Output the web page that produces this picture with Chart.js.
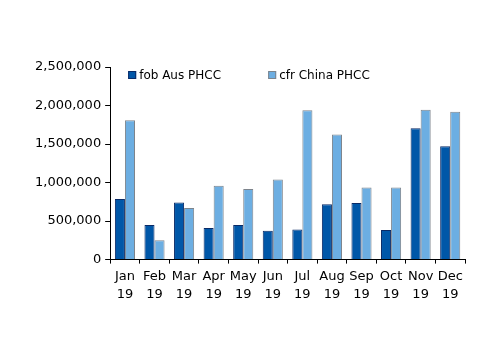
<!DOCTYPE html>
<html>
<head>
<meta charset="utf-8">
<script src="https://cdn.jsdelivr.net/npm/chart.js@4/dist/chart.umd.min.js"></script>
<style>
  html, body { margin: 0; padding: 0; background: #fff; }
  #wrap { width: 500px; height: 354px; }
</style>
</head>
<body>
<div id="wrap"><canvas id="chart"></canvas></div>
<script>
// data
const months = ['Jan', 'Feb', 'Mar', 'Apr', 'May', 'Jun', 'Jul', 'Aug', 'Sep', 'Oct', 'Nov', 'Dec'];
const year = '19';
const fobAus = [785000, 450000, 740000, 410000, 450000, 375000, 390000, 720000, 735000, 385000, 1705000, 1470000];
const cfrChina = [1810000, 250000, 670000, 960000, 915000, 1040000, 1940000, 1625000, 935000, 935000, 1945000, 1920000];
const yTicks = [0, 500000, 1000000, 1500000, 2000000, 2500000];

const FONT = 'DejaVu Sans';

// legend drawn inside the plot area, top left
const insideLegend = {
  id: 'insideLegend',
  afterDraw(chart) {
    const ctx = chart.ctx;
    const area = chart.chartArea;
    const offsets = [18, 158];
    ctx.save();
    ctx.font = '12px "' + FONT + '"';
    ctx.textBaseline = 'middle';
    chart.data.datasets.forEach((ds, i) => {
      const x = area.left + offsets[i];
      const y = area.top + 4;
      ctx.fillStyle = ds.backgroundColor;
      ctx.strokeStyle = ds.borderColor;
      ctx.lineWidth = 1;
      ctx.fillRect(x, y, 8, 8);
      ctx.strokeRect(x + 0.5, y + 0.5, 7, 7);
      ctx.fillStyle = '#000';
      ctx.fillText(ds.label, x + 11, y + 4.5);
    });
    ctx.restore();
  }
};

window.addEventListener('load', fillChart);

function fillChart() {
  let ctx = document.getElementById('chart').getContext('2d');
  new Chart(ctx, {
    type: 'bar',
    data: {
      labels: months.map(m => [m, year]),
      datasets: [{
        label: 'fob Aus PHCC',
        data: fobAus,
        backgroundColor: '#0057a8',
        borderColor: '#0a2a66',
        borderWidth: 1
      }, {
        label: 'cfr China PHCC',
        data: cfrChina,
        backgroundColor: '#6caee2',
        borderColor: '#7d848c',
        borderWidth: 1
      }]
    },
    plugins: [insideLegend],
    options: {
      responsive: true,
      maintainAspectRatio: false,
      animation: false,
      datasets: {
        bar: { categoryPercentage: 0.68, barPercentage: 1.0 }
      },
      layout: { padding: { left: 31, right: 35, top: 67, bottom: 46 } },
      plugins: {
        legend: { display: false },
        tooltip: { enabled: false }
      },
      scales: {
        x: {
          offset: true,
          grid: { offset: true, drawOnChartArea: false, drawTicks: true, tickLength: 4, color: '#000' },
          border: { color: '#000', width: 1 },
          ticks: { color: '#000', font: { family: FONT, size: 13, lineHeight: 1.4 }, padding: 4, maxRotation: 0, autoSkip: false }
        },
        y: {
          min: 0,
          max: 2500000,
          afterBuildTicks(axis) { axis.ticks = yTicks.map(v => ({ value: v })); },
          grid: { drawOnChartArea: false, drawTicks: true, tickLength: 5, color: '#000' },
          border: { color: '#000', width: 1 },
          ticks: {
            color: '#000',
            font: { family: FONT, size: 13 },
            padding: 4,
            callback: v => v.toLocaleString('en-US')
          }
        }
      }
    }
  });
}
</script>
</body>
</html>
